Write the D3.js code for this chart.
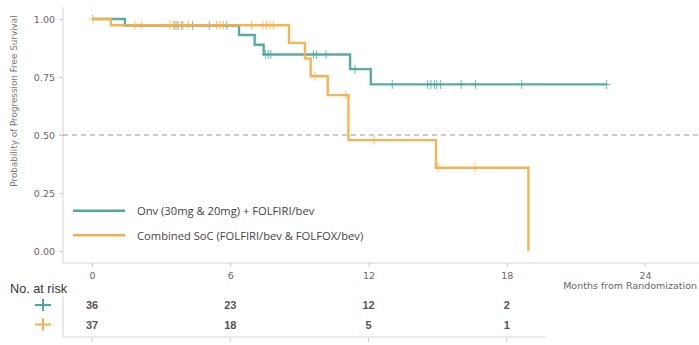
<!DOCTYPE html>
<html>
<head>
<meta charset="utf-8">
<script src="https://cdn.jsdelivr.net/npm/d3@7"></script>
<style>
	body { margin: 0; background: #fff; }
	svg { display: block; }
</style>
</head>
<body>
<svg id="chart" width="699" height="345"></svg>
<script>
// Onv arm: event times (months) and survival after each event
var onvTimes = [0, 1.43, 6.38, 7.06, 7.45, 11.2, 12.1];
var onvSurv = [1, 0.972, 0.931, 0.889, 0.847, 0.784, 0.718];
var onvEnd = 22.34;
var onvCensor = [3.6, 3.73, 3.89, 4.37, 5.09, 5.85, 7.54, 7.65, 7.76, 9.61, 9.75, 10.16, 11.41,
	13.03, 14.57, 14.71, 14.86, 14.96, 15.13, 16.02, 16.64, 18.65, 22.34];

// Combined SoC arm
var socTimes = [0, 0.82, 8.55, 9.24, 9.49, 10.23, 11.13, 14.93, 18.94];
var socSurv = [1, 0.973, 0.897, 0.83, 0.753, 0.672, 0.478, 0.359, 0];
var socEnd = 18.94;
var socCensor = [0.03, 1.87, 2.16, 3.39, 3.53, 3.68, 3.96, 4.18, 5.41, 5.56, 5.7, 6.93,
	7.42, 7.58, 7.73, 7.87, 9.68, 11.02, 12.24, 15.02, 16.62];

var xTicks = [0, 6, 12, 18, 24];
var yTicks = [0, 0.25, 0.5, 0.75, 1];
var riskTimes = [0, 6, 12, 18];
var onvRisk = [36, 23, 12, 2];
var socRisk = [37, 18, 5, 1];

var seriesNames = ["Onv (30mg & 20mg) + FOLFIRI/bev", "Combined SoC (FOLFIRI/bev & FOLFOX/bev)"];
var colors = ["#4fa89f", "#f6b04a"];

var svg = d3.select("#chart");
var x = d3.scaleLinear().domain([0, 24]).range([92, 645]);
var y = d3.scaleLinear().domain([0, 1]).range([251, 19]);

var grey = "#e2e2e2";
var tickFont = "DejaVu Sans, sans-serif";

// spines
svg.append("line").attr("x1", 63).attr("x2", 63).attr("y1", 7).attr("y2", 263)
	.attr("stroke", grey).attr("stroke-width", 1.5);
svg.append("line").attr("x1", 63).attr("x2", 699).attr("y1", 263).attr("y2", 263)
	.attr("stroke", grey).attr("stroke-width", 1.5);

// y axis
var yAxis = svg.append("g").attr("transform", "translate(63,0)")
	.call(d3.axisLeft(y).tickValues(yTicks).tickFormat(d3.format(".2f")).tickSize(4).tickPadding(4));
yAxis.select(".domain").remove();
yAxis.selectAll("line").attr("stroke", "#ccc");
yAxis.selectAll("text").attr("fill", "#666").style("font-family", tickFont).style("font-size", "9.5px");

// x axis
var xAxis = svg.append("g").attr("transform", "translate(0,263)")
	.call(d3.axisBottom(x).tickValues(xTicks).tickFormat(d3.format("d")).tickSize(4).tickPadding(5));
xAxis.select(".domain").remove();
xAxis.selectAll("line").attr("stroke", "#ccc");
xAxis.selectAll("text").attr("fill", "#666").style("font-family", tickFont).style("font-size", "9.5px");

svg.append("text").attr("x", 697).attr("y", 289).attr("text-anchor", "end")
	.attr("fill", "#666").style("font-family", tickFont).style("font-size", "9.5px")
	.text("Months from Randomization");

svg.append("text").attr("transform", "translate(17,101) rotate(-90)").attr("text-anchor", "middle")
	.attr("fill", "#777").style("font-family", tickFont).style("font-size", "8.8px")
	.text("Probability of Progression Free Survival");

// median line
svg.append("line").attr("x1", 63).attr("x2", 699).attr("y1", y(0.5)).attr("y2", y(0.5))
	.attr("stroke", "#999").attr("stroke-width", 1.2).attr("stroke-dasharray", "5,4");

function stepAt(times, surv, t) {
	var s = surv[0];
	for (var i = 0; i < times.length; i++) {
		if (times[i] <= t) s = surv[i];
	}
	return s;
}

var line = d3.line().x(function(d) { return x(d[0]); }).y(function(d) { return y(d[1]); })
	.curve(d3.curveStepAfter);

var arms = [
	{ times: onvTimes, surv: onvSurv, end: onvEnd, censor: onvCensor, color: colors[0] },
	{ times: socTimes, surv: socSurv, end: socEnd, censor: socCensor, color: colors[1] }
];

arms.forEach(function(a) {
	var pts = a.times.map(function(t, i) { return [t, a.surv[i]]; });
	if (a.end > a.times[a.times.length - 1]) pts.push([a.end, a.surv[a.surv.length - 1]]);
	svg.append("path").datum(pts).attr("d", line)
		.attr("fill", "none").attr("stroke", a.color).attr("stroke-width", 2.4)
		.attr("stroke-opacity", 0.95);

	var g = svg.append("g");
	a.censor.forEach(function(t) {
		var cx = x(t), cy = y(stepAt(a.times, a.surv, t));
		g.append("path").attr("d", "M" + (cx - 4) + "," + cy + "H" + (cx + 4) + "M" + cx + "," + (cy - 4.5) + "V" + (cy + 4.5))
			.attr("stroke", a.color).attr("stroke-width", 1).attr("stroke-opacity", 0.8);
	});
});

// legend
var legend = svg.append("g");
seriesNames.forEach(function(name, i) {
	var ly = 210.7 + i * 24.5;
	legend.append("line").attr("x1", 73).attr("x2", 125).attr("y1", ly).attr("y2", ly)
		.attr("stroke", colors[i]).attr("stroke-width", 2.4);
	legend.append("text").attr("x", 137).attr("y", ly + 4.5)
		.attr("fill", "#444").style("font-family", "Open Sans, sans-serif").style("font-size", "11.2px")
		.text(name);
});

// at-risk table
svg.append("line").attr("x1", 63).attr("x2", 63).attr("y1", 296).attr("y2", 337)
	.attr("stroke", grey).attr("stroke-width", 1.5);
svg.append("line").attr("x1", 63).attr("x2", 545).attr("y1", 337).attr("y2", 337)
	.attr("stroke", grey).attr("stroke-width", 1.5);
svg.append("text").attr("x", 10).attr("y", 293)
	.attr("fill", "#333").style("font-family", "Liberation Sans, Arial, sans-serif").style("font-size", "12.7px")
	.text("No. at risk");
svg.append("g").selectAll("line").data(riskTimes).enter().append("line")
	.attr("x1", function(d) { return x(d); }).attr("x2", function(d) { return x(d); })
	.attr("y1", 338).attr("y2", 342).attr("stroke", "#ccc");

[onvRisk, socRisk].forEach(function(row, i) {
	var ry = 305 + i * 19.5;
	svg.append("path").attr("d", "M35," + ry + "H51M43," + (ry - 6) + "V" + (ry + 6))
		.attr("stroke", colors[i]).attr("stroke-width", 2);
	svg.append("g").selectAll("text").data(row).enter().append("text")
		.attr("x", function(d, j) { return x(riskTimes[j]); }).attr("y", ry + 4)
		.attr("text-anchor", "middle").attr("fill", "#555")
		.style("font-family", "Liberation Sans, Arial, sans-serif").style("font-size", "11px").style("font-weight", "bold")
		.text(function(d) { return d; });
});
</script>
</body>
</html>
